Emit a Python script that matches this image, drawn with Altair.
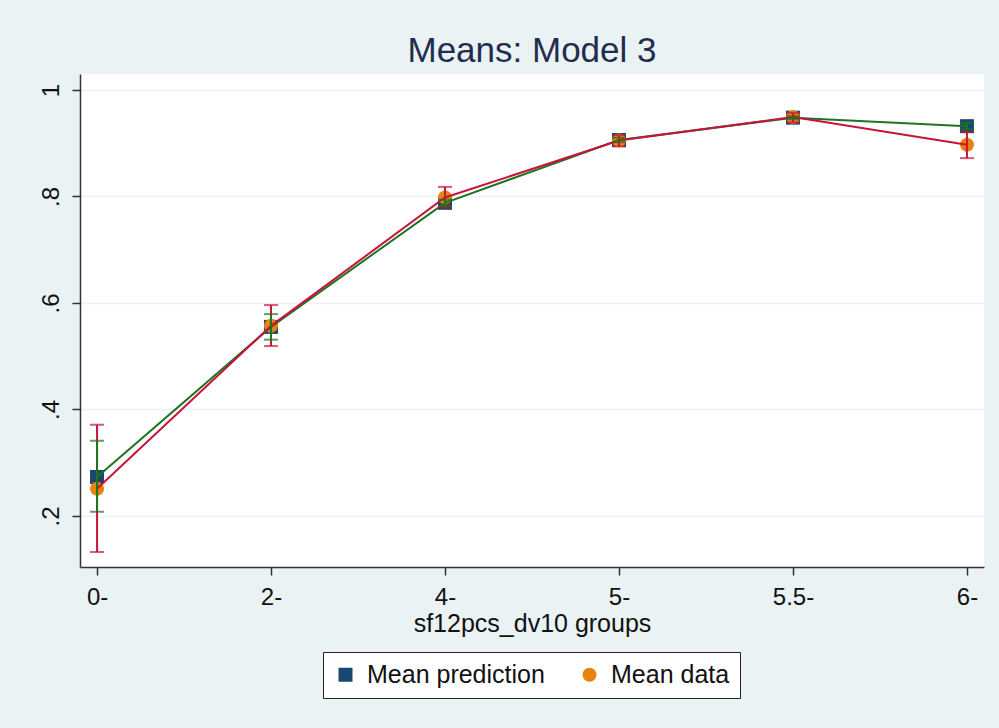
import altair as alt
import pandas as pd

# Group labels along the x axis
groups = ["0-", "2-", "4-", "5-", "5.5-", "6-"]

# Model predictions: mean and 95% interval
pred_mean = [0.273, 0.555, 0.788, 0.906, 0.948, 0.932]
pred_lo = [0.208, 0.531, 0.782, 0.902, 0.945, 0.926]
pred_hi = [0.341, 0.579, 0.794, 0.910, 0.951, 0.938]

# Observed data: mean and 95% interval
data_mean = [0.251, 0.557, 0.798, 0.905, 0.949, 0.897]
data_lo = [0.132, 0.519, 0.779, 0.894, 0.939, 0.872]
data_hi = [0.371, 0.596, 0.818, 0.915, 0.957, 0.921]

series_names = ["Mean prediction", "Mean data"]

rows = []
for i, g in enumerate(groups):
    rows.append({"group": g, "series": series_names[0],
                 "mean": pred_mean[i], "lo": pred_lo[i], "hi": pred_hi[i]})
    rows.append({"group": g, "series": series_names[1],
                 "mean": data_mean[i], "lo": data_lo[i], "hi": data_hi[i]})
df = pd.DataFrame(rows)
pred = df[df.series == series_names[0]]
obs = df[df.series == series_names[1]]

FONT = "'Liberation Sans', Arial, sans-serif"
NAVY = "#1A476F"
ORANGE = "#E8820C"
GREEN = "#1F7420"
RED = "#C8143C"

x_enc = alt.X(
    "group:O",
    sort=groups,
    scale=alt.Scale(type="point", padding=0.098),
    axis=alt.Axis(
        title="sf12pcs_dv10 groups",
        labelAngle=0,
        labelFontSize=24,
        titleFontSize=25,
        titleFontWeight="normal",
        labelFont=FONT,
        titleFont=FONT,
        labelColor="#111111",
        titleColor="#111111",
        tickSize=8,
        tickColor="#333333",
        domainColor="#333333",
        domainWidth=1.5,
        tickWidth=1.5,
        labelPadding=10,
        titlePadding=2,
        grid=False,
    ),
)

y_scale = alt.Scale(domain=[0.104, 1.03], nice=False, zero=False)
y_axis = alt.Axis(
    title=None,
    values=[0.2, 0.4, 0.6, 0.8, 1.0],
    labelExpr="datum.value >= 1 ? '1' : replace(format(datum.value, '.1f'), '0.', '.')",
    labelAngle=-90,
    labelAlign="center",
    labelBaseline="bottom",
    labelFontSize=24,
    labelFont=FONT,
    labelColor="#111111",
    labelPadding=9,
    tickSize=8,
    tickColor="#333333",
    tickWidth=1.5,
    domainColor="#333333",
    domainWidth=1.5,
    grid=True,
    gridColor="#EAF2F3",
    gridWidth=1.5,
)

base = alt.Chart(df).encode(x=x_enc)

markers = base.mark_point(filled=True, size=196, opacity=1).encode(
    y=alt.Y("mean:Q", scale=y_scale, axis=y_axis),
    color=alt.Color(
        "series:N",
        scale=alt.Scale(domain=series_names, range=[NAVY, ORANGE]),
        legend=alt.Legend(
            title=None,
            orient="none",
            legendX=243,
            legendY=578,
            direction="horizontal",
            columns=2,
            labelFontSize=25,
            labelFont=FONT,
            labelColor="#111111",
            labelLimit=0,
            symbolSize=196,
            symbolStrokeWidth=0,
            labelOffset=9,
            columnPadding=32,
            padding=10,
            strokeColor="#222222",
            fillColor="white",
        ),
    ),
    shape=alt.Shape(
        "series:N",
        scale=alt.Scale(domain=series_names, range=["square", "circle"]),
    ),
    order=alt.Order("series:N", sort="descending"),
)

pred_line = alt.Chart(pred).mark_line(color=GREEN, strokeWidth=2).encode(
    x=x_enc, y=alt.Y("mean:Q", scale=y_scale)
)
obs_line = alt.Chart(obs).mark_line(color=RED, strokeWidth=2).encode(
    x=x_enc, y=alt.Y("mean:Q", scale=y_scale)
)


def ci_layers(frame, colour):
    bar = alt.Chart(frame).mark_rule(color=colour, strokeWidth=2).encode(
        x=x_enc, y=alt.Y("lo:Q", scale=y_scale), y2="hi:Q"
    )
    cap_lo = alt.Chart(frame).mark_tick(color=colour, size=14, thickness=2).encode(
        x=x_enc, y=alt.Y("lo:Q", scale=y_scale)
    )
    cap_hi = alt.Chart(frame).mark_tick(color=colour, size=14, thickness=2).encode(
        x=x_enc, y=alt.Y("hi:Q", scale=y_scale)
    )
    return [bar, cap_lo, cap_hi]


chart = alt.layer(
    markers,
    pred_line,
    obs_line,
    *ci_layers(obs, RED),
    *ci_layers(pred, GREEN),
).properties(
    width=904,
    height=493,
    autosize=alt.AutoSizeParams(type="none"),
    padding={"left": 80, "top": 74, "right": 15, "bottom": 161},
    background="#EAF2F3",
    title=alt.TitleParams(
        "Means: Model 3",
        fontSize=35,
        font=FONT,
        fontWeight="normal",
        color="#1F2D4E",
        anchor="middle",
        offset=5,
    ),
).configure_view(fill="white", stroke=None)

chart.save("out.html", embed_options={"renderer": "svg", "actions": False})
